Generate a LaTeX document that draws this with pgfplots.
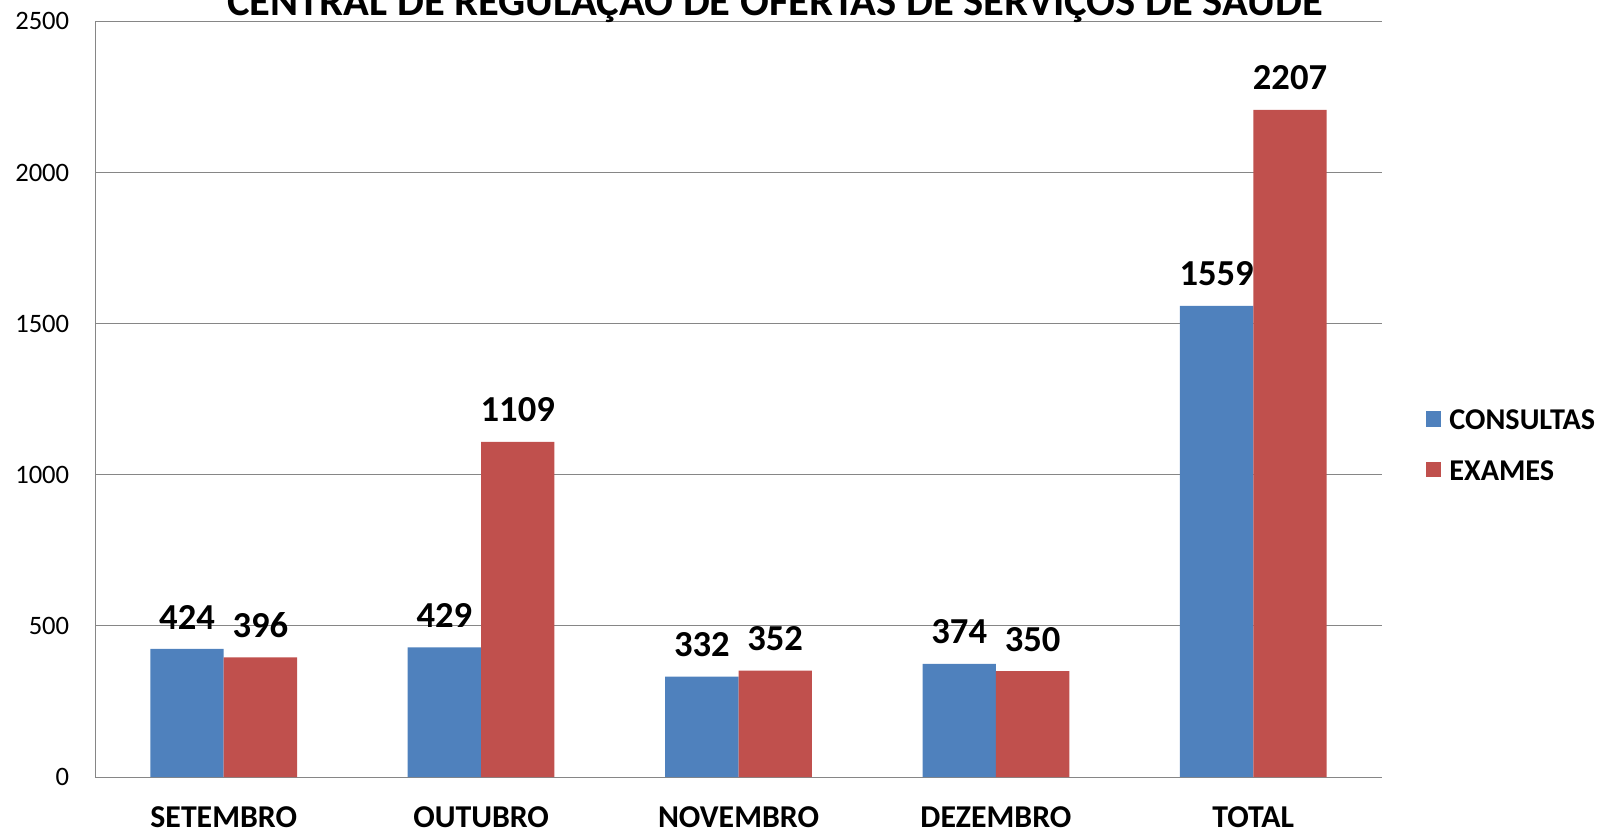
\documentclass[border=0pt]{standalone}
\usepackage{pgfplots}
\pgfplotsset{compat=1.18}
\usepackage{fontspec}
\setmainfont{Carlito}
\definecolor{cblue}{HTML}{4F81BD}
\definecolor{cred}{HTML}{C0504D}
\definecolor{gridgray}{HTML}{868686}
\begin{document}
\begin{tikzpicture}
\begin{axis}[
  at={(47.5pt,26.5pt)}, anchor=south west,
  scale only axis, width=643.5pt, height=377.8pt,
  xmin=-0.5, xmax=4.5, ymin=0, ymax=2500,
  ytick={0,500,...,2500}, xtick={0,1,2,3,4},
  xticklabels={SETEMBRO,OUTUBRO,NOVEMBRO,DEZEMBRO,TOTAL},
  ymajorgrids, grid style={gridgray, line width=0.5pt},
  axis lines*=left, axis line style={gridgray, line width=0.5pt, -},
  major tick length=0pt,
  /pgf/number format/assume math mode=true,
  /pgf/number format/1000 sep={},
  scaled y ticks=false,
  yticklabel style={font=\fontsize{13.3}{16}\selectfont, inner sep=0pt, xshift=-12.7pt},
  xticklabel style={font=\bfseries\fontsize{15.9}{19}\selectfont, inner sep=0pt, yshift=-14.4pt},
  ybar, bar width=0.285,
  nodes near coords,
  nodes near coords style={font=\bfseries\fontsize{18.3}{22}\selectfont, inner sep=0pt, anchor=south, yshift=9.7pt},
  legend style={at={(1,0.437)}, anchor=west, xshift=21.9pt, draw=none, fill=none, inner sep=0pt,
    nodes={inner sep=0pt}, font=\bfseries\fontsize{15.1}{18}\selectfont, row sep=14pt,
    /tikz/every odd column/.append style={column sep=4pt}},
  legend cell align=left,
]
\addplot[fill=cblue, draw=none, bar shift=-0.1425,
  legend image code/.code={\fill[cblue] (0pt,-2.6pt) rectangle (7.6pt,5pt);}]
  coordinates {(0,424) (1,429) (2,332) (3,374) (4,1559)};
\addlegendentry{CONSULTAS}
\addplot[fill=cred, draw=none, bar shift=0.1425,
  legend image code/.code={\fill[cred] (0pt,-2.6pt) rectangle (7.6pt,5pt);}]
  coordinates {(0,396) (1,1109) (2,352) (3,350) (4,2207)};
\addlegendentry{EXAMES}
\end{axis}
\node[font=\bfseries\fontsize{21.3}{25}\selectfont, anchor=base] at (387.5pt,407pt) {CENTRAL DE REGULAÇÃO DE OFERTAS DE SERVIÇOS DE SAÚDE};
\pgfresetboundingbox
\useasboundingbox (0,0) rectangle (799.5pt,415pt);
\end{tikzpicture}
\end{document}
